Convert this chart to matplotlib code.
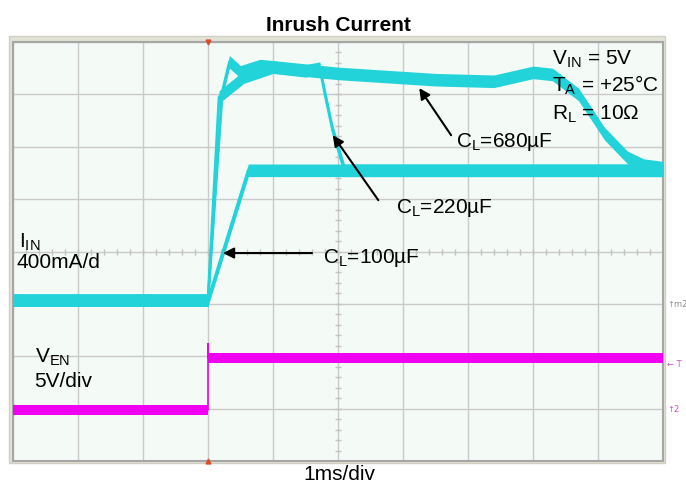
import numpy as np
import matplotlib.pyplot as plt
from matplotlib.patches import Rectangle

plt.rcParams['font.family'] = ['Liberation Sans', 'DejaVu Sans']
plt.rcParams['mathtext.fontset'] = 'custom'
plt.rcParams['mathtext.rm'] = 'Liberation Sans'
plt.rcParams['mathtext.it'] = 'Liberation Sans:italic'

# scope traces, in divisions (x: 1ms/div, y: screen divisions from bottom)
t_100 = [0, 3.0, 3.62, 10]
i_100 = [3.07, 3.07, 5.55, 5.55]

t_220 = [0, 3.0, 3.17, 3.55, 4.0, 4.5, 4.72, 4.8, 4.92, 5.1, 10]
i_220 = [3.07, 3.07, 6.95, 7.33, 7.52, 7.45, 7.5, 7.0, 6.3, 5.55, 5.55]

t_680 = [0, 3.0, 3.22, 3.33, 3.5, 3.8, 5.0, 6.5, 7.4, 8.0, 8.3, 8.7, 9.1, 9.45, 9.7, 10]
i_680 = [3.07, 3.07, 7.05, 7.62, 7.43, 7.55, 7.4, 7.28, 7.25, 7.42, 7.38, 7.0, 6.25, 5.8, 5.65, 5.6]

t_en = [0, 3.0, 3.0, 3.0, 10]
v_en = [0.97, 0.97, 2.23, 1.97, 1.97]

cyan = '#22d3da'
magenta = '#f000f0'

fig = plt.figure(figsize=(6.86, 4.96), dpi=100)
W, H = 686, 496

# outer frame band
fig.patches.append(Rectangle((9 / W, 1 - 463 / H), 656 / W, 427 / H,
                             transform=fig.transFigure, facecolor='#e2e2d6',
                             edgecolor='#cfcfc4', lw=1, zorder=-1))

ax = fig.add_axes([13 / W, 1 - 461 / H, 650 / W, 419 / H])
ax.set_zorder(1)
ax.set_facecolor('#f4faf5')
ax.set_xlim(0, 10)
ax.set_ylim(0, 8)
ax.set_xticks(range(11))
ax.set_yticks(range(9))
ax.tick_params(length=0, labelbottom=False, labelleft=False)
ax.grid(True, color='#cacaca', lw=1)
for s in ax.spines.values():
    s.set_color('#a6a6a6')
    s.set_linewidth(1.5)

# center graticule ticks
yt = np.arange(0.2, 8, 0.2)
xt = np.arange(0.2, 10, 0.2)
ax.plot(np.full(len(yt), 5), yt, ls='none', marker='_', ms=4, mew=1, color='#c2c2c2')
ax.plot(xt, np.full(len(xt), 4), ls='none', marker='|', ms=4, mew=1, color='#c2c2c2')

# trigger markers
ax.plot([3], [8], marker='v', ms=3.5, color='#d8502a', clip_on=False, zorder=5)
ax.plot([3], [0], marker='^', ms=3.5, color='#d8502a', clip_on=False, zorder=5)

hc = 0.12
for t, y in [(t_100, i_100), (t_220, i_220), (t_680, i_680)]:
    t = np.array(t)
    y = np.array(y)
    ax.fill_between(t, y - hc, y + hc, color=cyan, lw=0, zorder=3)
    ax.plot(t, y, color=cyan, lw=2, zorder=3)

hm = 0.1
te = np.array(t_en)
ve = np.array(v_en)
ax.fill_between(te, ve - hm, ve + hm, color=magenta, lw=0, zorder=4)
ax.plot(te, ve, color=magenta, lw=1.2, zorder=4)

fs = 15
akw = dict(arrowstyle='-|>', mutation_scale=16, lw=1.5, color='k', shrinkA=0, shrinkB=0)
ax.annotate('', xy=(6.25, 7.12), xytext=(6.74, 6.22), arrowprops=akw, zorder=6)
ax.annotate('', xy=(4.92, 6.22), xytext=(5.62, 4.98), arrowprops=akw, zorder=6)
ax.annotate('', xy=(3.23, 3.97), xytext=(4.6, 3.97), arrowprops=akw, zorder=6)

ax.text(6.82, 6.0, r'C$_\mathregular{L}$=680µF', fontsize=fs, va='baseline', zorder=6)
ax.text(5.89, 4.73, r'C$_\mathregular{L}$=220µF', fontsize=fs, va='baseline', zorder=6)
ax.text(4.77, 3.78, r'C$_\mathregular{L}$=100µF', fontsize=fs, va='baseline', zorder=6)

ax.text(8.29, 7.56, r'V$_\mathregular{IN}$ = 5V', fontsize=fs, va='baseline', zorder=6)
ax.text(8.29, 7.05, r'T$_\mathregular{A}$ = +25°C', fontsize=fs, va='baseline', zorder=6)
ax.text(8.29, 6.51, r'R$_\mathregular{L}$ = 10Ω', fontsize=fs, va='baseline', zorder=6)

ax.text(0.09, 4.07, r'I$_\mathregular{IN}$', fontsize=fs, va='baseline', zorder=6)
ax.text(0.05, 3.68, '400mA/d', fontsize=fs, va='baseline', zorder=6)
ax.text(0.34, 1.87, r'V$_\mathregular{EN}$', fontsize=fs, va='baseline', zorder=6)
ax.text(0.33, 1.41, '5V/div', fontsize=fs, va='baseline', zorder=6)

# channel markers at right edge
fig.text(667 / W, 1 - 307 / H, '↑m2', fontsize=6, color='#909090', family='DejaVu Sans')
fig.text(667 / W, 1 - 367 / H, '← T', fontsize=6, color='#d050c8', family='DejaVu Sans')
fig.text(667 / W, 1 - 412 / H, '↑2', fontsize=6, color='#d050c8', family='DejaVu Sans')

fig.text(338.5 / W, 1 - 31 / H, 'Inrush Current', fontsize=15, fontweight='bold',
         ha='center', va='baseline')
fig.text(339.5 / W, 1 - 480 / H, '1ms/div', fontsize=15, ha='center', va='baseline')

fig.savefig('out.png', dpi=100)
